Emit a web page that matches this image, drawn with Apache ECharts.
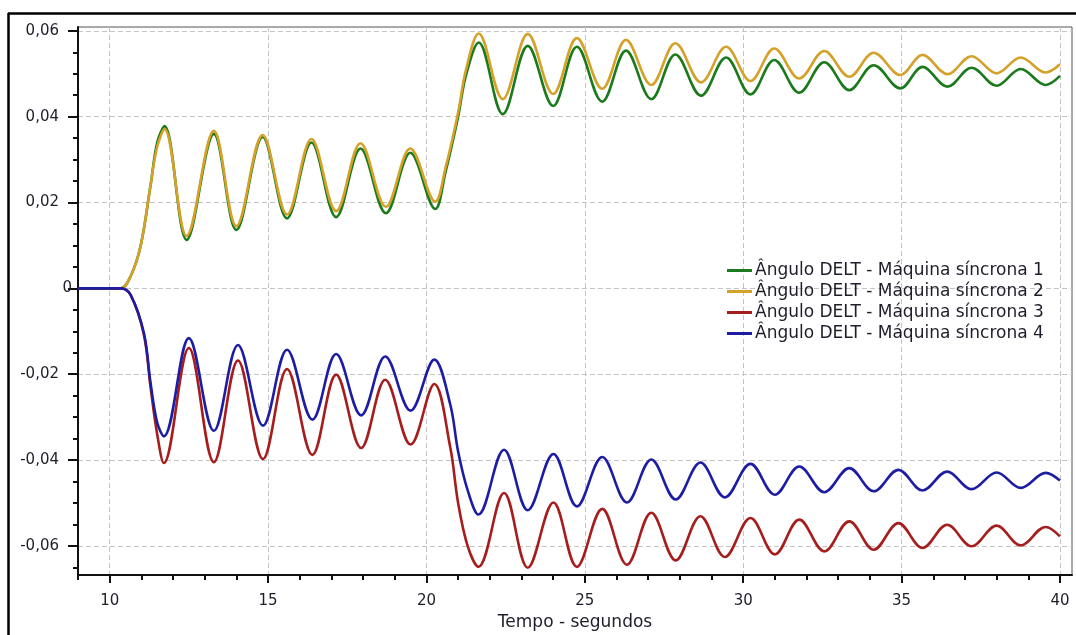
<!DOCTYPE html>
<html>
<head>
<meta charset="utf-8">
<script src="https://cdn.jsdelivr.net/npm/echarts@6/dist/echarts.min.js"></script>
<style>
html,body{margin:0;padding:0;background:#fff;}
#c{width:1076px;height:635px;}
</style>
</head>
<body>
<div id="c"></div>
<script>
// ---- data (time in s, angle) ----
var seriesNames = [
  'Ângulo DELT - Máquina síncrona 1',
  'Ângulo DELT - Máquina síncrona 2',
  'Ângulo DELT - Máquina síncrona 3',
  'Ângulo DELT - Máquina síncrona 4'
];
var xMajorTicks = [10, 15, 20, 25, 30, 35, 40];
var xMinorTicks = [9,10,11,12,13,14,15,16,17,18,19,20,21,22,23,24,25,26,27,28,29,30,31,32,33,34,35,36,37,38,39,40];
var yMajorTicks = [-0.06, -0.04, -0.02, 0, 0.02, 0.04, 0.06];
var yLabelTicks = [-0.06, -0.04, -0.02, 0.02, 0.04, 0.06];
var yZeroLabel = [0];
var yMinorTicks = [-0.065,-0.06,-0.055,-0.05,-0.045,-0.04,-0.035,-0.03,-0.025,-0.02,-0.015,-0.01,-0.005,0,0.005,0.01,0.015,0.02,0.025,0.03,0.035,0.04,0.045,0.05,0.055,0.06];

var maq1 = [[9,0],[10,0],[10.35,0],[10.66,0.0028],[10.98,0.010],[11.29,0.024],[11.5,0.034],[11.73,0.0378],[12.43,0.0113],[13.29,0.0360],[14.0,0.0136],[14.83,0.0353],[15.6,0.0163],[16.37,0.0340],[17.15,0.0166],[17.92,0.0326],[18.72,0.0175],[19.49,0.0316],[20.28,0.0185],[20.6,0.027],[21.0,0.040],[21.25,0.0497],[21.65,0.0573],[22.41,0.0406],[23.2,0.0565],[24.0,0.0425],[24.75,0.0563],[25.55,0.0435],[26.3,0.0554],[27.1,0.0441],[27.86,0.0545],[28.67,0.0449],[29.46,0.0538],[30.23,0.0452],[30.98,0.0532],[31.77,0.0456],[32.56,0.0527],[33.35,0.0462],[34.12,0.0520],[34.96,0.0466],[35.66,0.0516],[36.45,0.0470],[37.21,0.0514],[38.0,0.0472],[38.76,0.0511],[39.55,0.0474],[40,0.0495]];
var maq2 = [[9,0],[10,0],[10.35,0],[10.66,0.0028],[10.98,0.010],[11.29,0.024],[11.5,0.033],[11.73,0.0371],[12.43,0.0122],[13.29,0.0367],[14.0,0.0145],[14.83,0.0357],[15.6,0.0172],[16.37,0.0348],[17.15,0.0180],[17.92,0.0338],[18.72,0.0190],[19.49,0.0326],[20.28,0.0202],[20.6,0.028],[21.0,0.041],[21.25,0.051],[21.65,0.0594],[22.41,0.0441],[23.2,0.0593],[24.0,0.0453],[24.75,0.0583],[25.55,0.0465],[26.3,0.0579],[27.1,0.0474],[27.86,0.0571],[28.67,0.0480],[29.46,0.0563],[30.23,0.0483],[30.98,0.0559],[31.77,0.0489],[32.56,0.0553],[33.35,0.0493],[34.12,0.0549],[34.96,0.0497],[35.66,0.0544],[36.45,0.0499],[37.21,0.0541],[38.0,0.0501],[38.76,0.0538],[39.55,0.0503],[40,0.0522]];
var maq3 = [[9,0],[10,0],[10.35,0],[10.66,-0.0015],[11.08,-0.0108],[11.29,-0.023],[11.5,-0.034],[11.71,-0.0407],[12.5,-0.0139],[13.29,-0.0405],[14.05,-0.0168],[14.84,-0.0398],[15.6,-0.0188],[16.4,-0.0388],[17.15,-0.0201],[17.94,-0.0372],[18.7,-0.0213],[19.5,-0.0364],[20.25,-0.0223],[20.75,-0.037],[21.0,-0.050],[21.3,-0.060],[21.64,-0.0649],[22.45,-0.0477],[23.2,-0.0651],[24.01,-0.0499],[24.75,-0.0649],[25.55,-0.0514],[26.33,-0.0644],[27.1,-0.0523],[27.87,-0.0634],[28.65,-0.0531],[29.42,-0.0626],[30.23,-0.0535],[31.0,-0.0620],[31.77,-0.0539],[32.56,-0.0613],[33.35,-0.0543],[34.12,-0.0609],[34.9,-0.0547],[35.66,-0.0605],[36.44,-0.0551],[37.21,-0.0601],[38.0,-0.0553],[38.76,-0.0599],[39.55,-0.0556],[40,-0.0578]];
var maq4 = [[9,0],[10,0],[10.35,0],[10.66,-0.0015],[11.08,-0.0104],[11.29,-0.022],[11.5,-0.0313],[11.71,-0.0345],[12.5,-0.0116],[13.29,-0.0332],[14.05,-0.0132],[14.84,-0.0320],[15.6,-0.0143],[16.4,-0.0306],[17.15,-0.0153],[17.94,-0.0296],[18.7,-0.0159],[19.5,-0.0285],[20.25,-0.0166],[20.75,-0.027],[21.0,-0.038],[21.3,-0.047],[21.64,-0.0527],[22.45,-0.0376],[23.2,-0.0517],[24.01,-0.0386],[24.75,-0.0508],[25.55,-0.0393],[26.33,-0.0499],[27.1,-0.0399],[27.87,-0.0492],[28.65,-0.0406],[29.42,-0.0487],[30.23,-0.0409],[31.0,-0.0481],[31.77,-0.0415],[32.56,-0.0475],[33.35,-0.0419],[34.12,-0.0473],[34.9,-0.0423],[35.66,-0.0471],[36.44,-0.0427],[37.21,-0.0468],[38.0,-0.0429],[38.76,-0.0465],[39.55,-0.0430],[40,-0.0448]];

var colors = ['#1b7a1b', '#d4a12a', '#a51d1d', '#1d1da3'];
var seriesData = [maq1, maq2, maq3, maq4];

var FONT = 'DejaVu Sans';
var TXT = '#1e1e2a';
var X_MIN = 9, X_MAX = 40.38, Y_MIN = -0.0668, Y_MAX = 0.0609;

function fmtY(v) {
  if (Math.abs(v) < 1e-9) return '0';
  return v.toFixed(2).replace('.', ',');
}

var chart = echarts.init(document.getElementById('c'), null, {renderer: 'canvas'});
var option = {
  animation: false,
  backgroundColor: '#fff',
  grid: {left: 78, right: 4, top: 27, bottom: 60, show: true, borderColor: '#555', borderWidth: 1,
         containLabel: false, outerBoundsMode: 'none'},
  legend: {
    orient: 'vertical', left: 722, top: 257,
    icon: 'rect', itemWidth: 25, itemHeight: 3, itemGap: 4,
    textStyle: {fontFamily: FONT, fontSize: 17, color: TXT, lineHeight: 17, padding: [0, 0, 0, -2]},
    data: seriesNames
  },
  xAxis: [{
    type: 'value', min: X_MIN, max: X_MAX, position: 'bottom',
    name: 'Tempo - segundos', nameLocation: 'middle', nameGap: 39,
    nameTextStyle: {fontFamily: FONT, fontSize: 17, color: TXT},
    axisLine: {show: true, onZero: false, lineStyle: {color: '#111', width: 2}},
    axisTick: {show: true, length: 8, customValues: xMajorTicks, lineStyle: {color: '#111', width: 2}},
    axisLabel: {customValues: xMajorTicks, margin: 19, fontFamily: FONT, fontSize: 15, color: TXT},
    splitLine: {show: true, lineStyle: {color: '#c4c4c4', type: [5, 3], width: 1}}
  }, {
    type: 'value', min: X_MIN, max: X_MAX, position: 'bottom',
    axisLine: {show: false, onZero: false},
    axisTick: {show: true, length: 5, customValues: xMinorTicks, lineStyle: {color: '#111', width: 2}},
    axisLabel: {show: false},
    splitLine: {show: false}
  }],
  yAxis: [{
    type: 'value', min: Y_MIN, max: Y_MAX, position: 'left',
    axisLine: {show: true, onZero: false, lineStyle: {color: '#111', width: 2}},
    axisTick: {show: true, length: 10, customValues: yMajorTicks, lineStyle: {color: '#111', width: 2}},
    axisLabel: {customValues: yLabelTicks, margin: 19, fontFamily: FONT, fontSize: 15, color: TXT, formatter: fmtY},
    splitLine: {show: true, lineStyle: {color: '#c4c4c4', type: [5, 3], width: 1}}
  }, {
    type: 'value', min: Y_MIN, max: Y_MAX, position: 'left',
    axisLine: {show: false, onZero: false},
    axisTick: {show: true, length: 5, customValues: yMinorTicks, lineStyle: {color: '#111', width: 2}},
    axisLabel: {show: true, customValues: yZeroLabel, margin: 6, fontFamily: FONT, fontSize: 15, color: TXT, formatter: fmtY},
    splitLine: {show: false}
  }],
  series: seriesData.map(function (d, i) {
    return {
      name: seriesNames[i], type: 'line', data: d, smooth: 0.36,
      showSymbol: false, symbol: 'none',
      xAxisIndex: 0, yAxisIndex: 0,
      lineStyle: {color: colors[i], width: 2.6},
      itemStyle: {color: colors[i]},
      clip: true
    };
  }),
  graphic: [
    {type: 'line', shape: {x1: 8, y1: 13.5, x2: 1076, y2: 13.5}, style: {stroke: '#000', lineWidth: 2.5}, silent: true},
    {type: 'line', shape: {x1: 8.5, y1: 13, x2: 8.5, y2: 635}, style: {stroke: '#000', lineWidth: 2.5}, silent: true}
  ]
};
chart.setOption(option);
</script>
</body>
</html>
